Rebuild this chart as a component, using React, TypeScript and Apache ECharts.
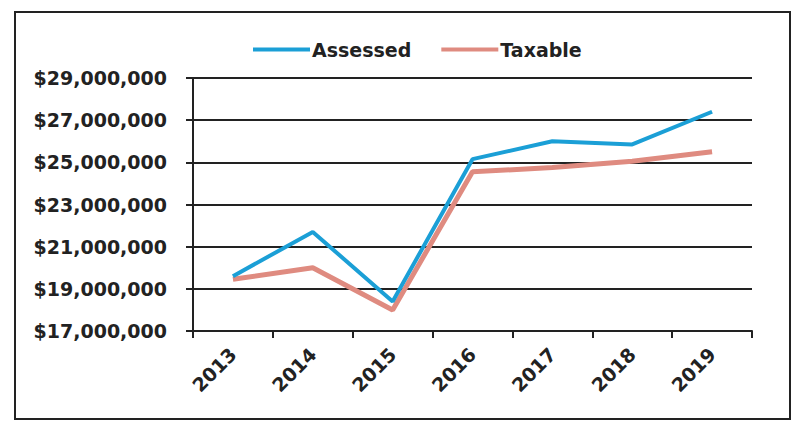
import React, { useEffect, useRef } from "react";
import * as echarts from "echarts";

// Tax roll values by year, in dollars
const years = ["2013", "2014", "2015", "2016", "2017", "2018", "2019"];
const assessed = [19600000, 21700000, 18400000, 25150000, 26000000, 25850000, 27400000];
const taxable = [19450000, 20000000, 18000000, 24550000, 24750000, 25050000, 25500000];
const seriesNames = ["Assessed", "Taxable"];

const FONT = "'DejaVu Sans', sans-serif";
const INK = "#222222";
const BLUE = "#1b9fd6";
const SALMON = "#df8b80";

function dollars(v: number): string {
  return "$" + String(Math.round(v)).replace(/\B(?=(\d{3})+(?!\d))/g, ",");
}

export default function App() {
  const ref = useRef<HTMLDivElement>(null);

  useEffect(() => {
    if (!ref.current) return;
    const chart = echarts.init(ref.current, null, { renderer: "svg" });
    chart.setOption({
      animation: false,
      backgroundColor: "#ffffff",
      graphic: [
        {
          type: "rect",
          shape: { x: 15, y: 12, width: 775, height: 407 },
          style: { fill: "none", stroke: INK, lineWidth: 2 },
          silent: true,
        },
      ],
      legend: {
        top: 35,
        left: 248,
        icon: "rect",
        itemWidth: 57,
        itemHeight: 4,
        itemGap: 30,
        textStyle: {
          fontFamily: FONT,
          fontWeight: "bold",
          fontSize: 19,
          color: INK,
          padding: [0, 0, 0, -3],
        },
        data: seriesNames,
      },
      grid: { left: 193, right: 47, top: 78, bottom: 98, containLabel: false },
      xAxis: {
        type: "category",
        data: years,
        boundaryGap: true,
        axisLine: { show: true, lineStyle: { color: INK, width: 2 } },
        axisTick: { show: true, length: 7, lineStyle: { color: INK, width: 2 } },
        axisLabel: {
          rotate: 45,
          margin: 20,
          fontFamily: FONT,
          fontWeight: "bold",
          fontSize: 19,
          color: INK,
        },
        splitLine: { show: false },
      },
      yAxis: {
        type: "value",
        min: 17000000,
        max: 29000000,
        interval: 2000000,
        axisLine: { show: true, lineStyle: { color: INK, width: 2 } },
        axisTick: { show: true, length: 7, lineStyle: { color: INK, width: 2 } },
        axisLabel: {
          margin: 26,
          fontFamily: FONT,
          fontWeight: "bold",
          fontSize: 19,
          color: INK,
          formatter: (v: number) => dollars(v),
        },
        splitLine: { show: true, lineStyle: { color: INK, width: 2 } },
      },
      series: [
        {
          name: seriesNames[0],
          type: "line",
          data: assessed,
          symbol: "none",
          lineStyle: { color: BLUE, width: 4 },
          itemStyle: { color: BLUE },
          z: 3,
        },
        {
          name: seriesNames[1],
          type: "line",
          data: taxable,
          symbol: "none",
          lineStyle: { color: SALMON, width: 5 },
          itemStyle: { color: SALMON },
          z: 2,
        },
      ],
    });
    return () => chart.dispose();
  }, []);

  return (
    <div
      ref={ref}
      style={{ position: "absolute", left: 0, top: 0, width: 799, height: 429 }}
    />
  );
}
